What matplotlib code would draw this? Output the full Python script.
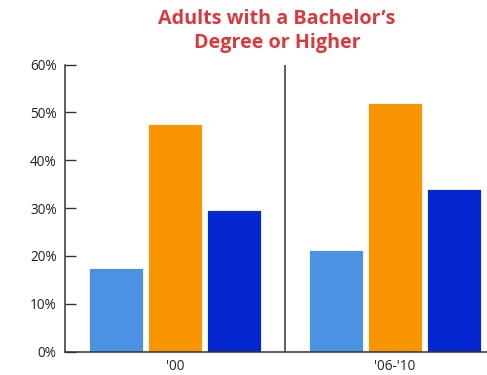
import matplotlib
matplotlib.use("Agg")
import matplotlib.pyplot as plt
import numpy as np

periods = ["'00", "'06-'10"]
series_a = [17.5, 21.2]
series_b = [47.5, 52.0]
series_c = [29.7, 34.0]
y_ticks = [0, 10, 20, 30, 40, 50, 60]
colors = ["#4B93E2", "#F99500", "#0527D2"]

plt.rcParams['font.family'] = ['Open Sans', 'DejaVu Sans']

fig = plt.figure(figsize=(4.87, 3.75), dpi=100)
ax = fig.add_axes([65 / 487, 23.3 / 375, 422 / 487, 287.2 / 375])

x = np.arange(len(periods))
step = 0.268
width = 0.245
for i, (vals, col) in enumerate(zip([series_a, series_b, series_c], colors)):
    ax.bar(x + (i - 1) * step, vals, width=width, color=col,
           edgecolor="#ffffff", linewidth=0.6, zorder=2)

# separator between the two periods
ax.axvline(0.5, ymin=0, ymax=1, color="#333333", linewidth=1.1, zorder=1)

ax.set_xlim(-0.5, 1.418)
ax.set_ylim(0, 60)
ax.set_yticks(y_ticks)
ax.set_yticklabels([f"{t}%" for t in y_ticks], fontsize=9.8, color="#222222")
ax.set_xticks(x)
ax.set_xticklabels(periods, fontsize=9.8, color="#222222")
ax.tick_params(axis="y", direction="in", length=8, width=1, color="#333333", pad=6)
ax.tick_params(axis="x", length=0, pad=5)

for s in ["top", "right"]:
    ax.spines[s].set_visible(False)
for s in ["left", "bottom"]:
    ax.spines[s].set_color("#333333")
    ax.spines[s].set_linewidth(1.1)

fig.text(277 / 487, 1 - 31 / 375, "Adults with a Bachelor\u2019s\nDegree or Higher",
         ha="center", va="center", fontsize=14.2, fontweight="bold",
         color="#D63B3F", linespacing=1.3)

fig.savefig("out.png", dpi=100)
